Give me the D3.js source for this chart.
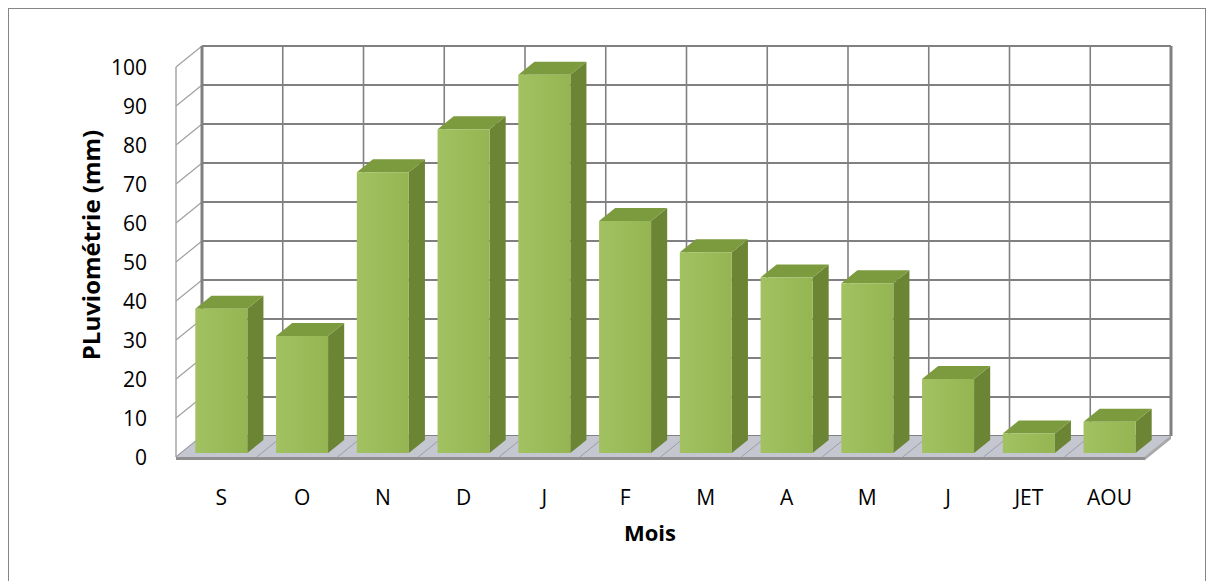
<!DOCTYPE html>
<html>
<head>
<meta charset="utf-8">
<script src="https://cdn.jsdelivr.net/npm/d3@7"></script>
<style>
  html, body { margin: 0; padding: 0; background: #fff; }
  svg { display: block; }
  text { font-family: "Open Sans", "Liberation Sans", sans-serif; fill: #000; }
</style>
</head>
<body>
<svg id="chart" width="1215" height="581"></svg>
<script>
// Monthly rainfall (mm), September to August
const months = ["S", "O", "N", "D", "J", "F", "M", "A", "M", "J", "JET", "AOU"];
const rainfall = [37, 30, 72, 83, 97, 59.5, 51.5, 45, 43.5, 19, 5, 8];
const yTicks = [0, 10, 20, 30, 40, 50, 60, 70, 80, 90, 100];

const svg = d3.select("#chart");

// Back wall of the 3D box
const wall = { left: 202, right: 1171, bottom: 436, top: 46 };
// Depth vector from back wall to front edge of the floor
const depth = { dx: -26, dy: 21 };
// Bars occupy the middle part of the depth
const barBack = 0.19, barFront = 0.81;

const keys = months.map((m, i) => i);
const x = d3.scaleBand()
  .domain(keys)
  .range([wall.left, wall.right])
  .paddingInner(0.356)
  .paddingOuter(0.178);

const y = d3.scaleLinear().domain([0, 100]).range([wall.bottom, wall.top]);

// project a point on the back plane forward by depth fraction t
const P = (px, py, t) => [px + depth.dx * t, py + depth.dy * t];
const poly = pts => pts.map(p => p.join(",")).join(" ");

// outer frame
svg.append("rect")
  .attr("x", 8.5).attr("y", 8.5)
  .attr("width", 1197).attr("height", 590)
  .attr("fill", "#fff").attr("stroke", "#868686").attr("stroke-width", 1);

const grid = "#808080";

// side wall (left)
svg.append("polygon")
  .attr("points", poly([P(wall.left, y(0), 1), P(wall.left, y(100), 1), [wall.left, y(100)], [wall.left, y(0)]]))
  .attr("fill", "#fff");
svg.append("g").selectAll("line").data(yTicks).join("line")
  .attr("x1", d => P(wall.left, y(d), 1)[0]).attr("y1", d => P(wall.left, y(d), 1)[1])
  .attr("x2", wall.left).attr("y2", d => y(d))
  .attr("stroke", "#a0a0a0").attr("stroke-width", 1.2);
svg.append("line")
  .attr("x1", P(wall.left, y(0), 1)[0]).attr("y1", P(wall.left, y(0), 1)[1])
  .attr("x2", P(wall.left, y(100), 1)[0]).attr("y2", P(wall.left, y(100), 1)[1])
  .attr("stroke", "#a6a6a6").attr("stroke-width", 1.5);

// back wall grid
const boundaries = d3.range(months.length + 1).map(i => wall.left + i * x.step());
svg.append("g").selectAll("line").data(yTicks).join("line")
  .attr("x1", wall.left).attr("x2", wall.right)
  .attr("y1", d => y(d)).attr("y2", d => y(d))
  .attr("stroke", grid).attr("stroke-width", 2);
svg.append("g").selectAll("line").data(boundaries).join("line")
  .attr("x1", d => d).attr("x2", d => d)
  .attr("y1", y(0)).attr("y2", y(100))
  .attr("stroke", grid)
  .attr("stroke-width", (d, i) => (i === 0 || i === boundaries.length - 1) ? 3 : 1.6);

// floor
const fl = [P(wall.left, y(0), 1), [wall.left, y(0)], [wall.right, y(0)], P(wall.right, y(0), 1)];
svg.append("polygon").attr("points", poly(fl)).attr("fill", "#c4c7d0");
// floor grid lines along the depth
svg.append("g").selectAll("line").data(boundaries).join("line")
  .attr("x1", d => d).attr("y1", y(0))
  .attr("x2", d => P(d, y(0), 1)[0]).attr("y2", d => P(d, y(0), 1)[1])
  .attr("stroke", "#9a9ca6").attr("stroke-width", 1);
// floor thickness
const fr = P(wall.right, y(0), 1), flt = P(wall.left, y(0), 1);
svg.append("polygon")
  .attr("points", poly([flt, fr, [fr[0], fr[1] + 3], [flt[0], flt[1] + 3]]))
  .attr("fill", "#8f8f8f");
svg.append("polygon")
  .attr("points", poly([fr, [wall.right, y(0)], [wall.right, y(0) + 3], [fr[0], fr[1] + 3]]))
  .attr("fill", "#a8a8a8");

// bar gradient
const defs = svg.append("defs");
const g1 = defs.append("linearGradient").attr("id", "front").attr("x1", 0).attr("x2", 1).attr("y1", 0).attr("y2", 0);
g1.append("stop").attr("offset", "0%").attr("stop-color", "#a2c161");
g1.append("stop").attr("offset", "100%").attr("stop-color", "#95b552");

// bars
const bars = svg.append("g").selectAll("g").data(rainfall).join("g");
bars.each(function(v, i) {
  const g = d3.select(this);
  const x0 = x(i), x1 = x(i) + x.bandwidth();
  const yb = y(0), yt = y(v);
  const fbl = P(x0, yb, barFront), fbr = P(x1, yb, barFront);
  const ftl = P(x0, yt, barFront), ftr = P(x1, yt, barFront);
  const btl = P(x0, yt, barBack), btr = P(x1, yt, barBack), bbr = P(x1, yb, barBack);
  // right side
  g.append("polygon").attr("points", poly([fbr, ftr, btr, bbr])).attr("fill", "#6b8535");
  // top
  g.append("polygon").attr("points", poly([ftl, btl, btr, ftr])).attr("fill", "#7c9b3e");
  // front
  g.append("polygon").attr("points", poly([fbl, ftl, ftr, fbr])).attr("fill", "url(#front)");
});

// value axis labels
svg.append("g").selectAll("text").data(yTicks).join("text")
  .attr("x", 147)
  .attr("y", d => P(wall.left, y(d), 1)[1])
  .attr("dy", "0.36em")
  .attr("text-anchor", "end")
  .attr("font-size", 21)
  .text(d => d);

// category labels
svg.append("g").selectAll("text").data(months).join("text")
  .attr("x", (d, i) => P(x(i) + x.bandwidth() / 2, 0, barFront)[0])
  .attr("y", 497)
  .attr("dy", "0.36em")
  .attr("text-anchor", "middle")
  .attr("font-size", 21)
  .text(d => d);

// axis titles
svg.append("text")
  .attr("x", 650).attr("y", 533).attr("dy", "0.36em")
  .attr("text-anchor", "middle")
  .attr("font-size", 22).attr("font-weight", "bold")
  .text("Mois");

svg.append("text")
  .attr("transform", "translate(91,245) rotate(-90)")
  .attr("dy", "0.36em")
  .attr("text-anchor", "middle")
  .attr("font-size", 24).attr("font-weight", "bold")
  .text("PLuviométrie (mm)");
</script>
</body>
</html>
